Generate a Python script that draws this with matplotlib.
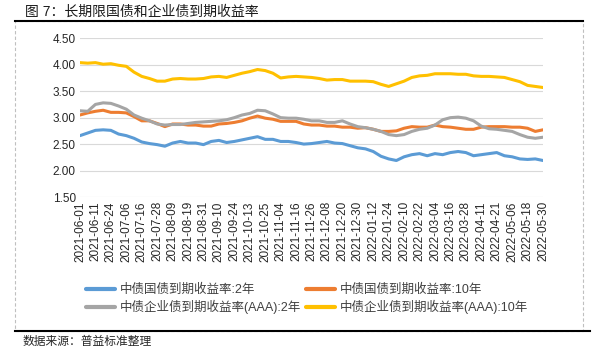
import numpy as np
import matplotlib.pyplot as plt
from matplotlib.lines import Line2D
from matplotlib.patches import Rectangle

plt.rcParams['font.family'] = ['Liberation Sans', 'Noto Sans CJK SC', 'DejaVu Sans']

# x axis: trading-day index, labels every 8 trading days
tick_labels = ['2021-06-01', '2021-06-11', '2021-06-24', '2021-07-06', '2021-07-16',
               '2021-07-28', '2021-08-09', '2021-08-19', '2021-08-31', '2021-09-10',
               '2021-09-24', '2021-10-13', '2021-10-25', '2021-11-04', '2021-11-16',
               '2021-11-26', '2021-12-08', '2021-12-20', '2021-12-30', '2022-01-12',
               '2022-01-24', '2022-02-10', '2022-02-22', '2022-03-04', '2022-03-16',
               '2022-03-28', '2022-04-11', '2022-04-21', '2022-05-06', '2022-05-18',
               '2022-05-30']
day_idx = np.arange(0, 241, 4)   # values read every 4 trading days

gov_2y = [2.66, 2.71, 2.76, 2.77, 2.76, 2.69, 2.66, 2.61, 2.54, 2.51, 2.49, 2.46, 2.52, 2.55, 2.52,
          2.52, 2.49, 2.55, 2.57, 2.53, 2.55, 2.58, 2.61, 2.64, 2.59, 2.59, 2.55, 2.55, 2.53,
          2.50, 2.51, 2.53, 2.55, 2.52, 2.51, 2.47, 2.43, 2.41, 2.36, 2.27, 2.22, 2.19, 2.26, 2.30,
          2.32, 2.28, 2.32, 2.30, 2.34, 2.36, 2.34, 2.28, 2.30, 2.32, 2.34, 2.28, 2.26, 2.22, 2.21,
          2.22, 2.19]
gov_10y = [3.05, 3.09, 3.12, 3.14, 3.10, 3.10, 3.09, 3.02, 2.94, 2.94, 2.89, 2.83, 2.88, 2.88, 2.86,
           2.86, 2.84, 2.84, 2.88, 2.89, 2.91, 2.94, 2.99, 3.03, 2.99, 2.97, 2.93, 2.93, 2.93,
           2.88, 2.86, 2.86, 2.84, 2.84, 2.82, 2.82, 2.80, 2.81, 2.78, 2.74, 2.74, 2.75, 2.80, 2.83,
           2.82, 2.82, 2.86, 2.83, 2.82, 2.80, 2.78, 2.78, 2.82, 2.83, 2.83, 2.83, 2.82, 2.82, 2.80,
           2.74, 2.77]
corp_2y = [3.13, 3.12, 3.25, 3.28, 3.27, 3.22, 3.16, 3.05, 2.99, 2.94, 2.88, 2.86, 2.87, 2.87, 2.89,
           2.91, 2.92, 2.93, 2.94, 2.96, 3.00, 3.05, 3.08, 3.14, 3.13, 3.07, 3.00, 2.99, 2.99,
           2.97, 2.94, 2.94, 2.91, 2.91, 2.94, 2.88, 2.83, 2.81, 2.78, 2.74, 2.68, 2.66, 2.68, 2.74,
           2.78, 2.80, 2.86, 2.96, 3.00, 3.01, 2.99, 2.94, 2.84, 2.79, 2.78, 2.76, 2.74, 2.68, 2.63,
           2.61, 2.63]
corp_10y = [4.04, 4.03, 4.04, 4.01, 4.02, 3.99, 3.97, 3.86, 3.78, 3.74, 3.69, 3.69, 3.73, 3.74, 3.73,
            3.73, 3.74, 3.77, 3.78, 3.76, 3.80, 3.84, 3.87, 3.91, 3.89, 3.84, 3.75, 3.77, 3.78,
            3.77, 3.76, 3.74, 3.71, 3.72, 3.72, 3.69, 3.69, 3.69, 3.68, 3.63, 3.59, 3.64, 3.69, 3.76,
            3.79, 3.80, 3.83, 3.83, 3.83, 3.82, 3.82, 3.79, 3.78, 3.78, 3.77, 3.76, 3.72, 3.68, 3.61,
            3.59, 3.57]

names = ['中债国债到期收益率:2年', '中债国债到期收益率:10年',
         '中债企业债到期收益率(AAA):2年', '中债企业债到期收益率(AAA):10年']
colors = ['#5B9BD5', '#ED7D31', '#A5A5A5', '#FFC000']

W, H = 598, 352
fig = plt.figure(figsize=(W / 100, H / 100), dpi=100)
ax = fig.add_axes([80 / W, 1 - 197 / H, (543 - 80) / W, (197 - 38.3) / H])

series = [gov_2y, gov_10y, corp_2y, corp_10y]
lines = []
for vals, c, n in zip(series, colors, names):
    ln, = ax.plot(day_idx, vals, color=c, lw=2.2, label=n, solid_capstyle='round')
    lines.append(ln)
# yellow on top like the reference
lines[3].set_zorder(3)

ax.set_xlim(0, 240)
ax.set_ylim(1.5, 4.5)
ax.set_yticks(np.arange(1.5, 4.51, 0.5))
ax.set_yticklabels(['%.2f' % v for v in np.arange(1.5, 4.51, 0.5)], fontsize=8.5, color='#262626')
ax.set_xticks(np.arange(0, 241, 8))
ax.set_xticklabels(tick_labels, rotation=90, fontsize=8.5, color='#262626')
ax.tick_params(length=0, pad=3)
ax.grid(axis='y', color='#D9D9D9', lw=0.8)
ax.set_axisbelow(True)
for s in ax.spines.values():
    s.set_visible(False)

# two legend columns
leg_kw = dict(loc='upper left', frameon=False, fontsize=9, handlelength=2.3, handletextpad=0.4,
              borderpad=0, borderaxespad=0, labelspacing=0.3, labelcolor='#404040')
leg1 = fig.legend(handles=[lines[0], lines[2]], bbox_to_anchor=(86 / W, 1 - 284 / H), **leg_kw)
leg2 = fig.legend(handles=[lines[1], lines[3]], bbox_to_anchor=(306 / W, 1 - 284 / H), **leg_kw)
for lg in (leg1, leg2):
    for h in lg.legend_handles:
        h.set_linewidth(3)

# frame, title rule and footer
fig.add_artist(Rectangle((15 / W, 1 - 331 / H), (583 - 15) / W, (331 - 21) / H,
                         transform=fig.transFigure, fill=False, ec='#BFBFBF', lw=0.8, ls=(0, (3, 2))))
fig.add_artist(Line2D([15 / W, 583 / W], [1 - 20.7 / H] * 2, color='black', lw=1.5))
fig.add_artist(Line2D([15 / W, 590 / W], [1 - 331 / H] * 2, color='black', lw=1.5))

fig.text(25 / W, 1 - 11.5 / H, '图 7：长期限国债和企业债到期收益率', fontsize=10,
         color='#1a1a1a', va='center', ha='left')
fig.text(23 / W, 1 - 342 / H, '数据来源：普益标准整理', fontsize=8.5,
         color='#262626', va='center', ha='left')

fig.savefig('out.png', dpi=100)
